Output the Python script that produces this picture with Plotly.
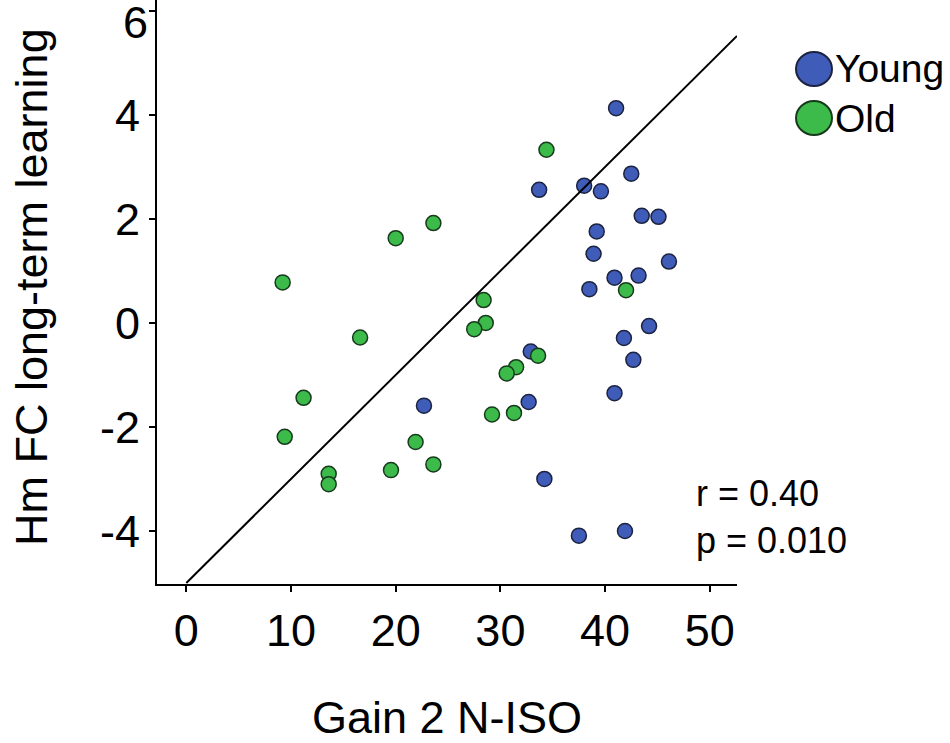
import plotly.graph_objects as go

# Young group
young_gain = [41.05, 42.5, 33.7, 38.0, 39.6, 43.5, 45.1, 39.2, 38.9, 46.1, 40.9, 43.2,
              38.5, 44.2, 41.8, 42.7, 32.9, 22.7, 32.7, 40.9, 34.2, 37.5, 41.9]
young_fc = [4.13, 2.87, 2.56, 2.64, 2.53, 2.06, 2.04, 1.76, 1.33, 1.18, 0.87, 0.91,
            0.65, -0.06, -0.29, -0.71, -0.55, -1.59, -1.52, -1.35, -3.0, -4.09, -4.0]

# Old group
old_gain = [9.2, 20.0, 23.6, 34.4, 28.4, 28.6, 27.5, 16.6, 42.0, 33.6, 31.5, 30.6,
            11.2, 31.3, 29.2, 9.4, 21.9, 23.6, 19.55, 13.6, 13.6]
old_fc = [0.78, 1.63, 1.92, 3.33, 0.44, 0.0, -0.12, -0.28, 0.63, -0.63, -0.85, -0.97,
          -1.44, -1.73, -1.76, -2.19, -2.29, -2.72, -2.83, -2.9, -3.1]

# fitted line
line_x = [0, 52.6]
line_intercept = -5.0
line_slope = 0.2

x_ticks = [0, 10, 20, 30, 40, 50]
y_ticks = [-4, -2, 0, 2, 4, 6]
y_ticktext = ["-4", "-2", "0", "2", "4", ""]   # top label is drawn on yaxis2, nudged down
y_top_tick = [6]
y_top_text = ["6"]

x_title = "Gain 2 N-ISO"
y_title = "Hm FC long-term learning"
stats_text = "r = 0.40<br>p = 0.010"

BLUE = "#3f5cb8"
GREEN = "#3cba4a"
FONT = "Liberation Sans, Arial, sans-serif"

# plot box in pixels
L, R, T, B = 157, 213, 0, 159
PW, PH = 950 - L - R, 743 - T - B

fig = go.Figure()

# the fit line lives on yaxis2 (same scale as y) so that axis gets drawn
fig.add_trace(go.Scatter(
    x=line_x, y=[line_intercept + line_slope * v for v in line_x], yaxis="y2",
    mode="lines", line=dict(color="black", width=2), hoverinfo="skip"))

fig.add_trace(go.Scatter(
    x=young_gain, y=young_fc, mode="markers", name="Young",
    marker=dict(size=15, color=BLUE, line=dict(color="#1c2340", width=1.5))))
fig.add_trace(go.Scatter(
    x=old_gain, y=old_fc, mode="markers", name="Old",
    marker=dict(size=15, color=GREEN, line=dict(color="#173a1c", width=1.5))))

axis_common = dict(
    showgrid=False, zeroline=False, showline=True, linecolor="black", linewidth=2,
    ticks="outside", ticklen=6, tickwidth=1.5, tickcolor="black",
    ticklabeloverflow="allow", automargin=False,
    tickfont=dict(size=45, color="black", family=FONT))

fig.update_xaxes(range=[-2.8, 52.6], tickvals=x_ticks, **axis_common)
fig.update_yaxes(range=[-5.02, 6.21], tickvals=y_ticks, ticktext=y_ticktext, **axis_common)

fig.update_layout(yaxis2=dict(
    overlaying="y", matches="y", side="left", showgrid=False, zeroline=False,
    showline=False, ticks="", tickvals=y_top_tick, ticktext=y_top_text,
    ticklabelshift=11, ticklabelstandoff=8, ticklabeloverflow="allow",
    automargin=False, tickfont=dict(size=45, color="black", family=FONT)))


def px_x(v):
    return (v - L) / PW


def px_y(v):
    return 1 - (v - T) / PH


# axis titles
fig.add_annotation(x=px_x(447), y=px_y(717), xref="paper", yref="paper",
                   text=x_title, showarrow=False, xanchor="center", yanchor="middle",
                   font=dict(size=45, color="black", family=FONT))
fig.add_annotation(x=px_x(31), y=px_y(287), xref="paper", yref="paper",
                   text=y_title, showarrow=False, xanchor="center", yanchor="middle",
                   textangle=-90, font=dict(size=45, color="black", family=FONT))

# custom legend with large circles
legend_items = [("Young", BLUE, "#1c2340", 69), ("Old", GREEN, "#173a1c", 118)]
for label, fill, edge, ypx in legend_items:
    fig.add_shape(type="circle", xref="paper", yref="paper",
                  xsizemode="pixel", ysizemode="pixel",
                  xanchor=px_x(814), yanchor=px_y(ypx),
                  x0=-18, x1=18, y0=-17, y1=17,
                  fillcolor=fill, line=dict(color=edge, width=2))
    fig.add_annotation(x=px_x(833), y=px_y(ypx), xref="paper", yref="paper",
                       text=label, showarrow=False, xanchor="left", yanchor="middle",
                       font=dict(size=39, color="black", family=FONT))

fig.add_annotation(x=px_x(694), y=px_y(517), xref="paper", yref="paper",
                   text=stats_text, showarrow=False, xanchor="left", yanchor="middle",
                   align="left", font=dict(size=36, color="black", family=FONT))

fig.update_layout(
    width=950, height=743, showlegend=False,
    plot_bgcolor="white", paper_bgcolor="white",
    margin=dict(l=L, r=R, t=T, b=B))

fig.write_html("out.html", config={"displayModeBar": False},
               post_script="document.body.style.margin='0px';")
